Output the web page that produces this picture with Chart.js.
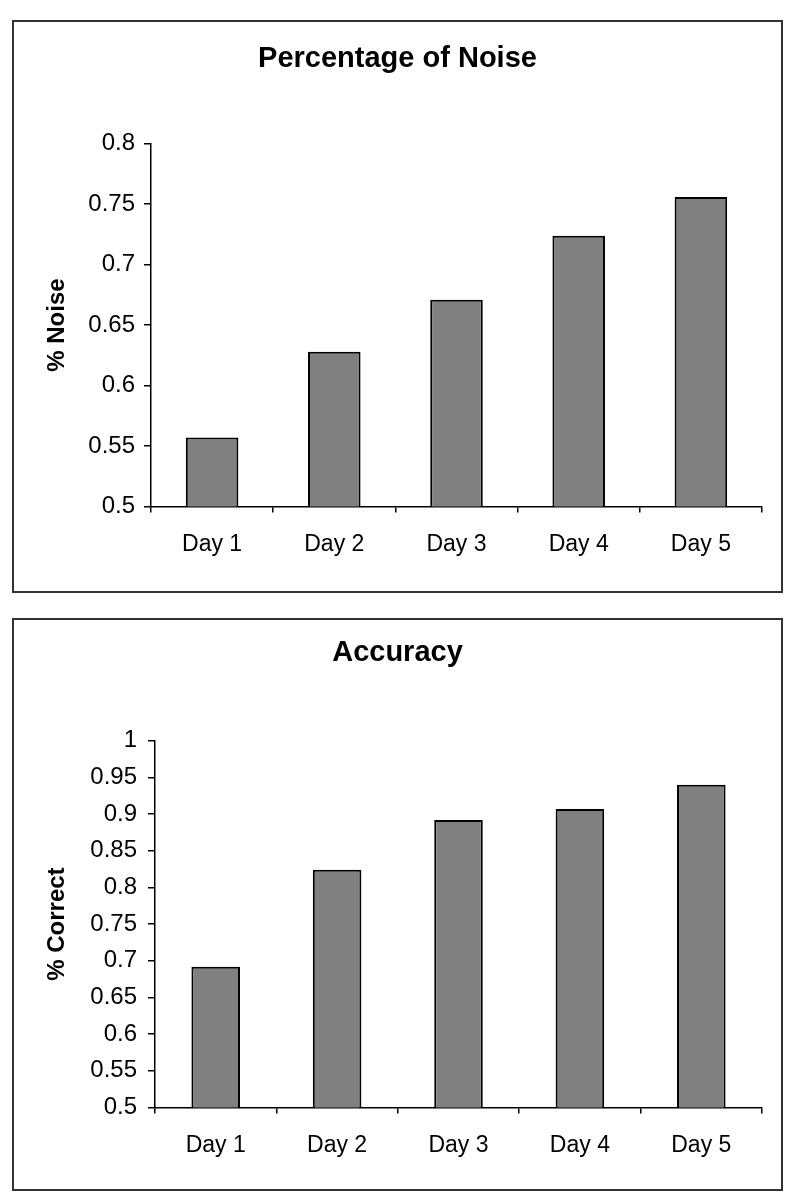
<!DOCTYPE html>
<html>
<head>
<meta charset="utf-8">
<script src="https://cdn.jsdelivr.net/npm/chart.js@4"></script>
<style>
  body { margin: 0; background: #fff; }
  .box {
    position: absolute;
    left: 12px;
    width: 771px;
    height: 573px;
    box-sizing: border-box;
    border: 2px solid #333;
    background: #fff;
  }
  #box1 { top: 20px; }
  #box2 { top: 618px; }
  canvas { display: block; }
</style>
</head>
<body>
<div class="box" id="box1"><canvas id="noiseChart" width="767" height="569"></canvas></div>
<div class="box" id="box2"><canvas id="accuracyChart" width="767" height="569"></canvas></div>
<script>
const days = ['Day 1', 'Day 2', 'Day 3', 'Day 4', 'Day 5'];
const noiseValues = [0.557, 0.628, 0.671, 0.724, 0.756];
const accuracyValues = [0.692, 0.824, 0.892, 0.907, 0.940];
const noiseTicks = [0.5, 0.55, 0.6, 0.65, 0.7, 0.75, 0.8];
const accuracyTicks = [0.5, 0.55, 0.6, 0.65, 0.7, 0.75, 0.8, 0.85, 0.9, 0.95, 1];

const fontFamily = '"Liberation Sans", Arial, sans-serif';
Chart.defaults.font.family = fontFamily;
Chart.defaults.color = '#000';

function makeChart(id, title, yTitle, values, ticks, cfg) {
    const ctx = document.getElementById(id).getContext('2d');
    return new Chart(ctx, {
        type: 'bar',
        data: {
            labels: days,
            datasets: [{
                data: values,
                backgroundColor: '#808080',
                borderColor: '#000',
                borderWidth: 2,
                borderSkipped: false,
                categoryPercentage: 1,
                barPercentage: cfg.barPct
            }]
        },
        options: {
            responsive: false,
            animation: false,
            // symmetric side padding keeps the title centred on the box
            layout: { padding: { left: 19, right: 19, top: 0, bottom: cfg.padBottom } },
            plugins: {
                legend: { display: false },
                tooltip: { enabled: false },
                title: {
                    display: true,
                    text: title,
                    color: '#000',
                    font: { size: 29, weight: 'bold' },
                    padding: { top: cfg.titleTop, bottom: cfg.titleBottom }
                }
            },
            scales: {
                x: {
                    grid: {
                        offset: true,
                        drawOnChartArea: false,
                        drawTicks: true,
                        tickLength: 6,
                        color: '#000',
                        lineWidth: 1.5
                    },
                    border: { display: true, color: '#000', width: 1.5 },
                    ticks: { font: { size: 23 }, padding: 18, color: '#000' }
                },
                y: {
                    min: ticks[0],
                    max: ticks[ticks.length - 1],
                    afterBuildTicks: scale => {
                        scale.ticks = ticks.map(v => ({ value: v }));
                    },
                    afterFit: scale => { scale.width = cfg.axisWidth; },
                    grid: {
                        drawOnChartArea: false,
                        drawTicks: true,
                        tickLength: 7,
                        color: '#000',
                        lineWidth: 1.5
                    },
                    border: { display: true, color: '#000', width: 1.5 },
                    ticks: {
                        font: { size: 24 },
                        padding: cfg.tickPad,
                        color: '#000',
                        callback: v => String(+Number(v).toFixed(2))
                    },
                    title: {
                        display: true,
                        text: yTitle,
                        color: '#000',
                        font: { size: 24, weight: 'bold' },
                        padding: { top: 10, bottom: 0 }
                    }
                }
            }
        }
    });
}

makeChart('noiseChart', 'Percentage of Noise', '% Noise', noiseValues, noiseTicks, {
    barPct: 0.43, padBottom: 15, titleTop: 20, titleBottom: 67, axisWidth: 118, tickPad: 9
});
makeChart('accuracyChart', 'Accuracy', '% Correct', accuracyValues, accuracyTicks, {
    barPct: 0.40, padBottom: 12, titleTop: 16, titleBottom: 70, axisWidth: 122, tickPad: 11
});
</script>
</body>
</html>
